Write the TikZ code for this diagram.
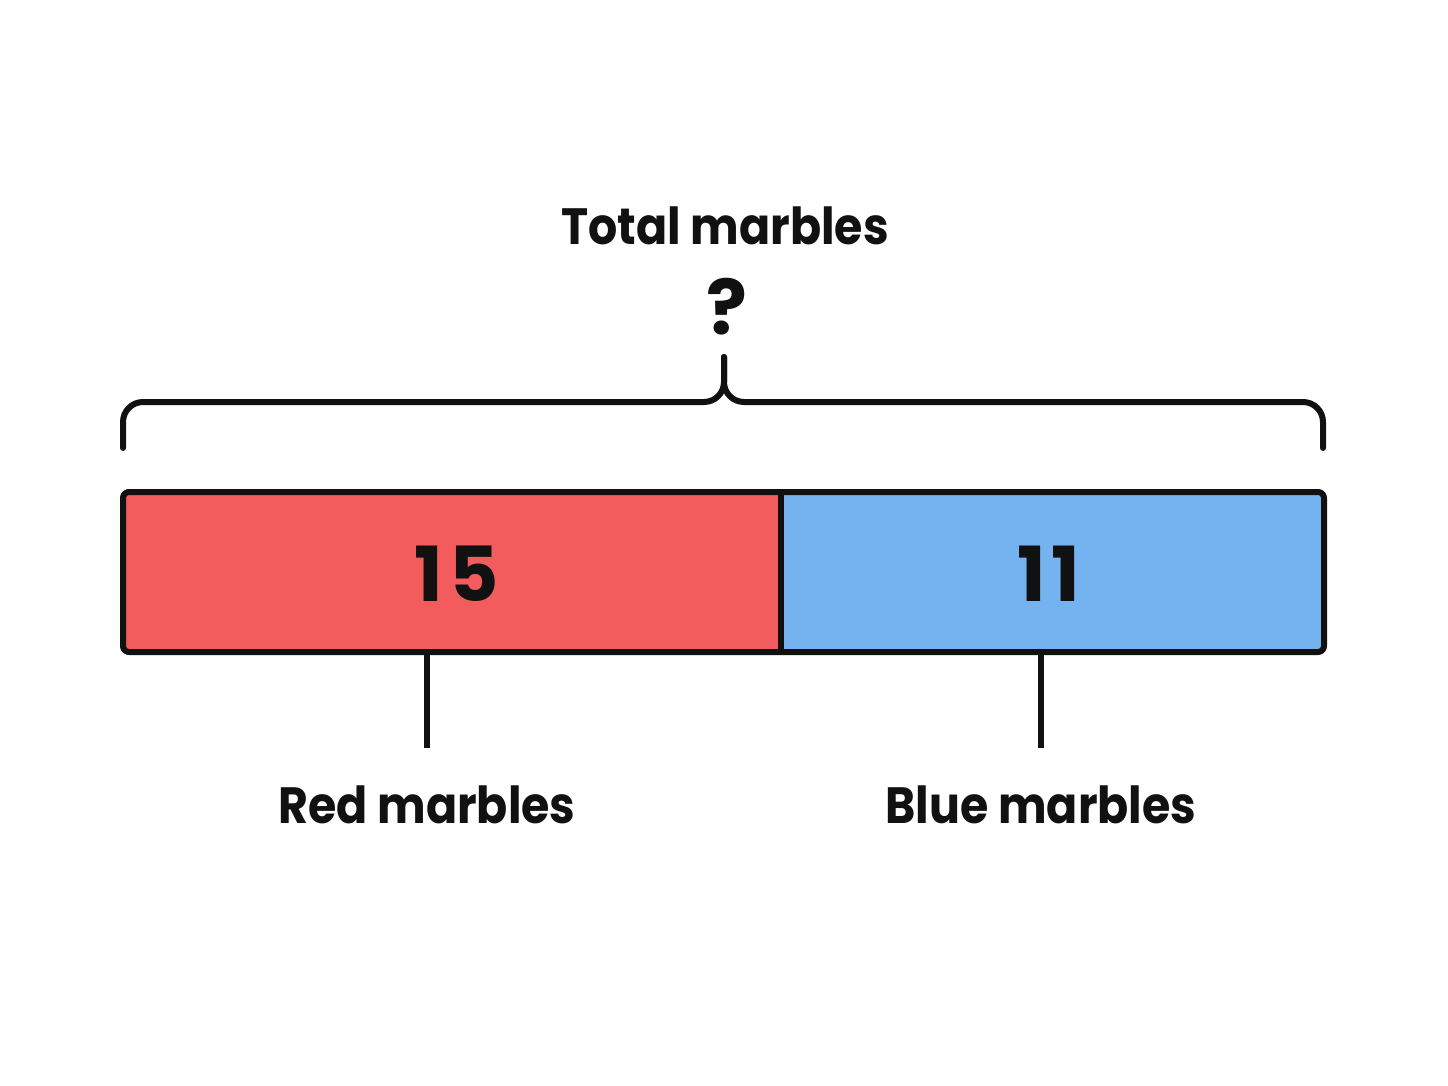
\documentclass[tikz,border=0pt]{standalone}
\usepackage{fontspec}
\setmainfont{Poppins}[FakeStretch=0.9]
\newfontfamily\numfont{Poppins}[LetterSpace=8]
\definecolor{redfill}{HTML}{F25C5C}
\definecolor{bluefill}{HTML}{74B3F0}
\definecolor{ink}{HTML}{111111}
\begin{document}
\begin{tikzpicture}[x=0.5pt,y=-0.5pt,
  lbl/.style={font=\fontsize{25.5}{30}\selectfont\bfseries, text=ink, inner sep=0pt},
  num/.style={font=\numfont\fontsize{38}{44}\selectfont\bfseries, text=ink, inner sep=0pt},
  stroke/.style={draw=ink, line width=3pt, line cap=round, line join=round}]
\useasboundingbox[fill=white] (0,0) rectangle (1448,1086);
% bar
\path[fill=redfill] (123,492) rectangle (781,652);
\path[fill=bluefill] (781,492) rectangle (1324,652);
\draw[stroke, rounded corners=3pt] (123,492) rectangle (1324,652);
\draw[stroke] (781,492) -- (781,652);
\node[num] (redval) at (457,574) {15};
\node[num] (blueval) at (1049,574) {11};
% brace
\coordinate (bl) at (123,448);
\coordinate (br) at (1323,448);
\coordinate (mid) at (724,402);
\coordinate (tip) at (724,357);
\draw[stroke, rounded corners=10pt] (bl) -- (123,402) -- (mid) -- (tip);
\draw[stroke, rounded corners=10pt] (br) -- (1323,402) -- (mid) -- (tip);
\node[lbl] (total) at (725,226) {Total marbles};
\node[num] (q) at (727,307) {?};
% pointers
\coordinate (rl) at (427,654);
\coordinate (bll) at (1041,654);
\coordinate (rle) at (427,748);
\coordinate (blle) at (1041,748);
\node[lbl] (redlbl) at (427,805) {Red marbles};
\node[lbl] (bluelbl) at (1041,805) {Blue marbles};
\draw[stroke, line cap=butt] (rl) -- (rle);
\draw[stroke, line cap=butt] (bll) -- (blle);
\end{tikzpicture}
\end{document}
